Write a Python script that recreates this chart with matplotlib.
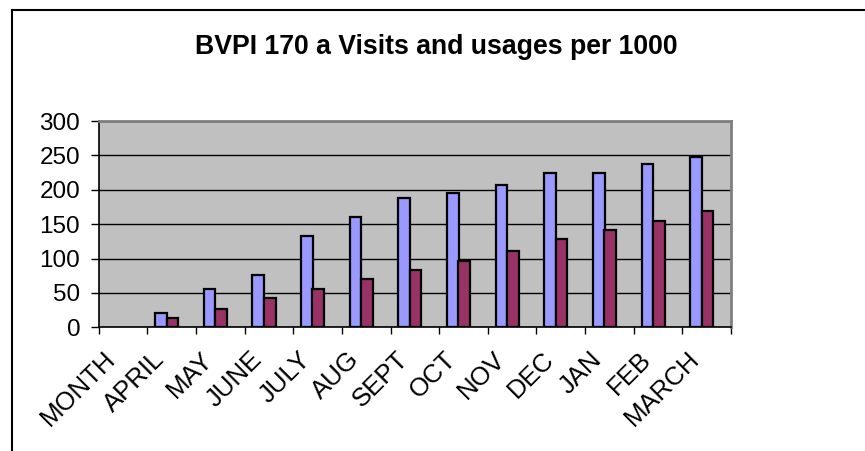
import matplotlib
matplotlib.use("Agg")
import matplotlib.pyplot as plt
import matplotlib.transforms as mtransforms
import numpy as np

months = ["MONTH", "APRIL", "MAY", "JUNE", "JULY", "AUG", "SEPT",
          "OCT", "NOV", "DEC", "JAN", "FEB", "MARCH"]
visits = [0, 21, 56, 76, 133, 160, 188, 196, 207, 224, 224, 238, 248]
usages = [0, 13, 27, 43, 56, 70, 84, 97, 111, 128, 141, 155, 169]
y_ticks = [0, 50, 100, 150, 200, 250, 300]

plt.rcParams["font.family"] = ["Liberation Sans", "DejaVu Sans"]

fig = plt.figure(figsize=(8.65, 4.51), dpi=100)
ax = fig.add_axes([0.1141, 0.2743, 0.731, 0.4574])
ax.set_facecolor("#C0C0C0")

x = np.arange(len(months))
w = 0.24
# MONTH column is empty, start the bars at APRIL
ax.bar(x[1:] - 0.22, visits[1:], width=w, color="#9999FF",
       edgecolor="black", linewidth=1.6, zorder=3)
ax.bar(x[1:] + 0.015, usages[1:], width=w, color="#993366",
       edgecolor="black", linewidth=1.6, zorder=3)

ax.set_xlim(-0.5, len(months) - 0.5)
ax.set_ylim(0, 300)
ax.set_yticks(y_ticks)
ax.yaxis.grid(True, color="black", linewidth=1, zorder=1)
ax.set_axisbelow(True)

ax.set_xticks(np.arange(-0.5, len(months)), minor=False)
ax.set_xticklabels([])
ax.set_xticks(x, minor=True)
ax.set_xticklabels(months, minor=True, rotation=45, ha="right",
                   va="baseline", rotation_mode="anchor", fontsize=18.5)
ax.tick_params(axis="x", which="minor", length=0, pad=24)
ax.tick_params(axis="x", which="major", length=5, width=1, direction="out")
ax.tick_params(axis="y", length=5.8, width=1, labelsize=17.5, pad=7.5)

shift = mtransforms.ScaledTranslation(-6 / 100, 0, fig.dpi_scale_trans)
for lab in ax.get_xticklabels(minor=True):
    lab.set_transform(lab.get_transform() + shift)

for s in ["top", "right"]:
    ax.spines[s].set_color("#808080")
    ax.spines[s].set_linewidth(2)
for s in ["left", "bottom"]:
    ax.spines[s].set_color("black")
    ax.spines[s].set_linewidth(1.2)

fig.text(0.504, 0.895, "BVPI 170 a Visits and usages per 1000",
         ha="center", va="center", fontsize=19.2, fontweight="bold")

# outer chart frame, only top and left edges show
fig.add_artist(plt.Line2D([12 / 865, 1], [1 - 10 / 451, 1 - 10 / 451],
                          transform=fig.transFigure, color="black", linewidth=1.5))
fig.add_artist(plt.Line2D([12 / 865, 12 / 865], [0, 1 - 10 / 451],
                          transform=fig.transFigure, color="black", linewidth=1.5))

fig.savefig("out.png", dpi=100)
